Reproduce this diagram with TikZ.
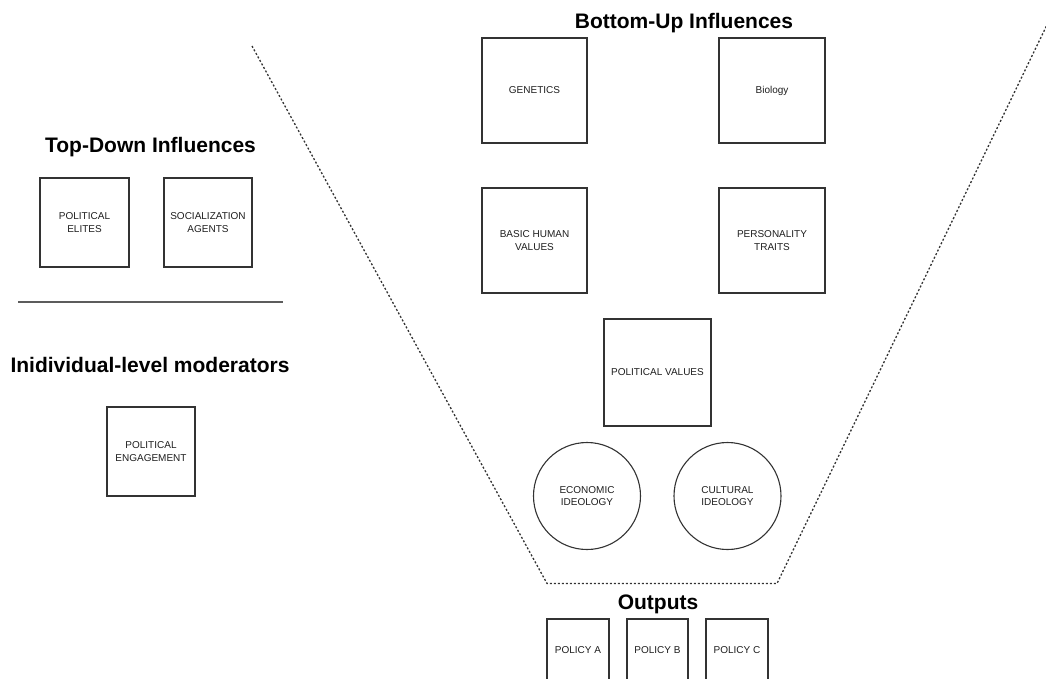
\documentclass[tikz,border=0pt]{standalone}
\usepackage{fontspec}
\setmainfont{Liberation Sans}
\definecolor{edge}{HTML}{333333}
\definecolor{ink}{HTML}{1E1E1E}
\begin{document}
\begin{tikzpicture}[x=1pt,y=-1pt,
  box/.style={draw=edge, line width=1.1pt, rectangle, inner sep=0pt,
    align=center, text=ink, font=\fontsize{10}{12.5}\selectfont},
  roundbox/.style={draw=edge, line width=1.1pt, circle, inner sep=0pt,
    minimum size=107pt, align=center, text=ink,
    font=\fontsize{10}{12.5}\selectfont},
  heading/.style={anchor=base, inner sep=0pt, text=black,
    font=\fontsize{21}{25}\selectfont\bfseries},
  funnel/.style={draw=edge, line width=1.3pt, dash pattern=on 2pt off 2pt},
  rule/.style={draw=edge!80, line width=1.1pt}]

\useasboundingbox (0,0) rectangle (1046,678);
\clip (0,0) rectangle (1046,678);

% funnel outline
\coordinate (fTL) at (252,46);
\coordinate (fBL) at (547,583.5);
\coordinate (fBR) at (777,583.5);
\coordinate (fTR) at (1059,0);
\draw[funnel] (fTL) -- (fBL) -- (fBR) -- (fTR);

% left column: top-down influences
\node[heading] (tdTitle) at (150.5,152) {Top-Down Influences};
\node[box, minimum width=89pt, minimum height=89pt] (elites) at (84.5,222.5) {POLITICAL\\ELITES};
\node[box, minimum width=88pt, minimum height=89pt] (social) at (208,222.5) {SOCIALIZATION\\AGENTS};

\coordinate (ruleL) at (18,302);
\coordinate (ruleR) at (283,302);
\draw[rule] (ruleL) -- (ruleR);

% individual-level moderators
\node[heading] (modTitle) at (150,372) {Inidividual-level moderators};
\node[box, minimum width=88pt, minimum height=89pt] (engage) at (151,451.5) {POLITICAL\\ENGAGEMENT};

% bottom-up influences
\node[heading] (buTitle) at (684,28) {Bottom-Up Influences};
\node[box, minimum width=105pt, minimum height=105pt] (genetics) at (534.5,90.5) {GENETICS};
\node[box, minimum width=106pt, minimum height=105pt] (biology) at (772,90.5) {Biology};
\node[box, minimum width=105pt, minimum height=105pt] (values) at (534.5,240.5) {BASIC HUMAN\\VALUES};
\node[box, minimum width=106pt, minimum height=105pt] (traits) at (772,240.5) {PERSONALITY\\TRAITS};
\node[box, minimum width=107pt, minimum height=107pt] (polvalues) at (657.5,372.5) {POLITICAL VALUES};

\node[roundbox] (econ) at (587,496) {ECONOMIC\\IDEOLOGY};
\node[roundbox] (cult) at (727.5,496) {CULTURAL\\IDEOLOGY};

% outputs
\node[heading] (outTitle) at (658,609) {Outputs};
\node[box, minimum width=62pt, minimum height=100pt] (polA) at (578,669) {};
\node[box, minimum width=61pt, minimum height=100pt] (polB) at (657.5,669) {};
\node[box, minimum width=62pt, minimum height=100pt] (polC) at (737,669) {};
\node[text=ink, font=\fontsize{10}{12}\selectfont, inner sep=0pt] (labA) at (578,650) {POLICY A};
\node[text=ink, font=\fontsize{10}{12}\selectfont, inner sep=0pt] (labB) at (657.5,650) {POLICY B};
\node[text=ink, font=\fontsize{10}{12}\selectfont, inner sep=0pt] (labC) at (737,650) {POLICY C};
\end{tikzpicture}
\end{document}
